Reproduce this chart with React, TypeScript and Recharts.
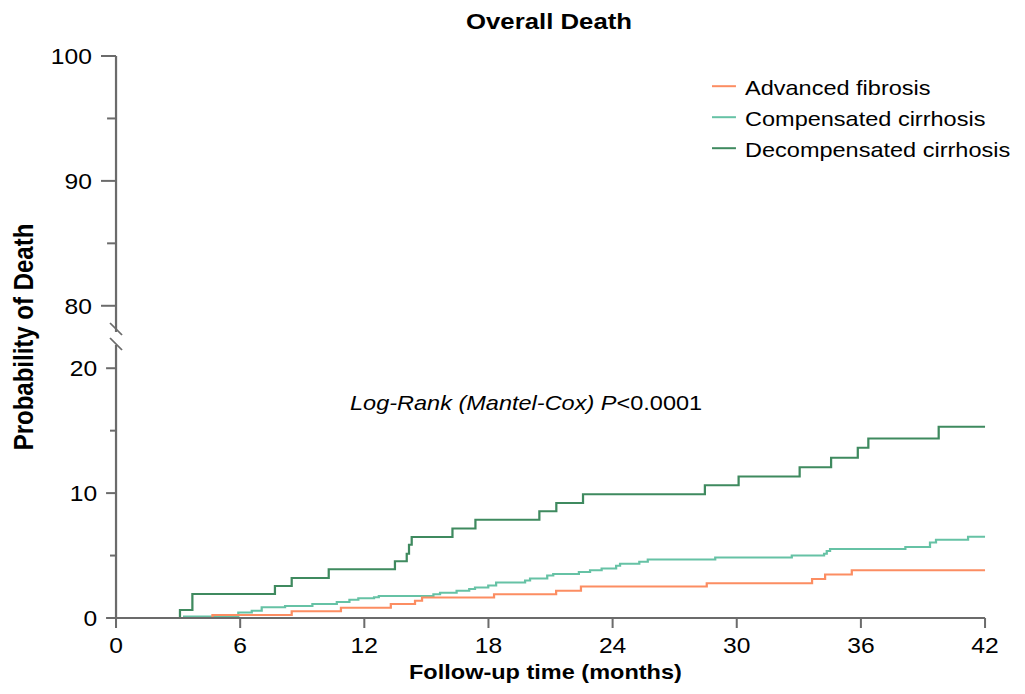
import React from 'react'
import { LineChart, Line, XAxis, YAxis, ReferenceLine } from 'recharts'

// the reference is a little wider than tall fonts suggest, so draw narrower and stretch
const STRETCH = 1.12
const W = 915
const H = 694

const AXIS = '#6b6b6b'
const FONT = '"Liberation Sans", Arial, Helvetica, sans-serif'

const COLORS = {
  advanced: '#fc8d62',
  compensated: '#66c2a5',
  decompensated: '#3f8a5f',
}

const monthTicks = [0, 6, 12, 18, 24, 30, 36, 42]
const lowerTicks = [0, 5, 10, 15, 20]
const upperTicks = [80, 85, 90, 95, 100]
// values 80..100 are drawn 55 units lower, right above the break
const BREAK_SHIFT = 55

// cumulative probability of death (%) against follow-up month, step curves
const advancedMonths = [0, 4.66, 8.49, 10.87, 13.28, 14.45, 14.79, 18.27, 21.27, 22.47, 28.55, 33.64, 34.27, 35.56, 42]
const advancedPct = [0, 0.24, 0.54, 0.83, 1.12, 1.39, 1.64, 1.9, 2.19, 2.52, 2.78, 3.13, 3.48, 3.83, 3.83]

const compensatedMonths = [
  0, 3.29, 5.91, 6.56, 7.04, 8.17, 9.49, 10.67, 11.28, 11.71, 12.47, 12.7, 15.34, 15.66, 16.46, 17.07, 17.35,
  17.99, 18.37, 19.77, 20.01, 20.84, 21.13, 22.37, 22.91, 23.47, 24.17, 24.36, 25.29, 25.7, 28.96, 32.66, 34.22,
  34.35, 34.51, 38.15, 39.34, 39.63, 41.18, 42,
]
const compensatedPct = [
  0, 0.13, 0.45, 0.59, 0.86, 0.96, 1.12, 1.28, 1.47, 1.58, 1.66, 1.77, 1.9, 2.03, 2.19, 2.33, 2.44,
  2.6, 2.84, 3.0, 3.16, 3.4, 3.53, 3.69, 3.83, 3.96, 4.18, 4.34, 4.5, 4.68, 4.84, 5.0, 5.14,
  5.36, 5.52, 5.68, 6.05, 6.27, 6.51, 6.51,
]

const decompensatedMonths = [
  0, 3.09, 3.69, 7.68, 8.49, 10.28, 13.48, 14.05, 14.16, 14.29, 16.26, 17.37, 20.46, 21.28, 22.57, 28.46, 30.09,
  33.04, 34.56, 35.85, 36.36, 39.76, 42,
]
const decompensatedPct = [
  0, 0.64, 1.93, 2.57, 3.21, 3.91, 4.55, 5.14, 5.86, 6.48, 7.17, 7.87, 8.54, 9.21, 9.91, 10.62, 11.33,
  12.08, 12.83, 13.63, 14.38, 15.32, 15.32,
]

const toSteps = (months: number[], pct: number[]) => months.map((t, i) => ({ t, p: pct[i] }))

const advancedData = toSteps(advancedMonths, advancedPct)
const compensatedData = toSteps(compensatedMonths, compensatedPct)
const decompensatedData = toSteps(decompensatedMonths, decompensatedPct)

const yTicks = [...lowerTicks, ...upperTicks.map((v) => v - BREAK_SHIFT)]

function YTick({ x, y, payload }: any) {
  const upper = payload.value > 20
  const shown = upper ? payload.value + BREAK_SHIFT : payload.value
  const major = shown % 10 === 0
  const len = upper ? (major ? 13.4 : 8) : major ? 8.9 : 5.4
  const gap = upper ? 21.6 : 16.8
  return (
    <g>
      <line x1={x - len} x2={x} y1={y} y2={y} stroke={AXIS} strokeWidth={2} />
      {major && (
        <text x={x - gap} y={y + 7.9} textAnchor="end" fontSize={22} fontFamily={FONT} fill="#000">
          {shown}
        </text>
      )}
    </g>
  )
}

function XTick({ x, y, payload }: any) {
  return (
    <g>
      <line x1={x} x2={x} y1={y} y2={y + 10} stroke={AXIS} strokeWidth={1.8} />
      <text x={x} y={y + 35} textAnchor="middle" fontSize={22} fontFamily={FONT} fill="#000">
        {payload.value}
      </text>
    </g>
  )
}

const legendItems = [
  { name: 'Advanced fibrosis', color: COLORS.advanced },
  { name: 'Compensated cirrhosis', color: COLORS.compensated },
  { name: 'Decompensated cirrhosis', color: COLORS.decompensated },
]

export default function App() {
  return (
    <div
      style={{
        position: 'absolute',
        left: 0,
        top: 0,
        width: W,
        height: H,
        transform: `scaleX(${STRETCH})`,
        transformOrigin: '0 0',
        background: '#fff',
      }}
    >
      <LineChart width={W} height={H} margin={{ top: 56, right: 35.5, bottom: 0, left: 0 }}>
        <XAxis
          type="number"
          dataKey="t"
          domain={[0, 42]}
          ticks={monthTicks}
          interval={0}
          height={76}
          axisLine={{ stroke: AXIS, strokeWidth: 2 }}
          tickLine={false}
          tickSize={0}
          tickMargin={0}
          tick={<XTick />}
        />
        <YAxis
          type="number"
          domain={[0, 45]}
          ticks={yTicks}
          interval={0}
          width={103.6}
          axisLine={false}
          tickLine={false}
          tickSize={0}
          tickMargin={0}
          tick={<YTick />}
        />
        {/* broken y axis line with the two slash marks */}
        <ReferenceLine segment={[{ x: 0, y: 0 }, { x: 0, y: 21.86 }]} stroke={AXIS} strokeWidth={2} ifOverflow="visible" />
        <ReferenceLine segment={[{ x: 0, y: 22.9 }, { x: 0, y: 45 }]} stroke={AXIS} strokeWidth={2} ifOverflow="visible" />
        <ReferenceLine segment={[{ x: -0.29, y: 23.62 }, { x: 0.29, y: 22.66 }]} stroke={AXIS} strokeWidth={1.6} ifOverflow="visible" />
        <ReferenceLine segment={[{ x: -0.29, y: 22.42 }, { x: 0.29, y: 21.46 }]} stroke={AXIS} strokeWidth={1.6} ifOverflow="visible" />
        <Line
          data={decompensatedData}
          dataKey="p"
          type="stepAfter"
          stroke={COLORS.decompensated}
          strokeWidth={2}
          dot={false}
          activeDot={false}
          isAnimationActive={false}
        />
        <Line
          data={compensatedData}
          dataKey="p"
          type="stepAfter"
          stroke={COLORS.compensated}
          strokeWidth={2}
          dot={false}
          activeDot={false}
          isAnimationActive={false}
        />
        <Line
          data={advancedData}
          dataKey="p"
          type="stepAfter"
          stroke={COLORS.advanced}
          strokeWidth={2}
          dot={false}
          activeDot={false}
          isAnimationActive={false}
        />
      </LineChart>
      <svg
        width={W}
        height={H}
        style={{ position: 'absolute', left: 0, top: 0, pointerEvents: 'none' }}
        fontFamily={FONT}
      >
        <text x={490.2} y={29} textAnchor="middle" fontSize={23} fontWeight="bold" fill="#000">
          Overall Death
        </text>
        <text x={312.5} y={410} fontSize={21} fill="#000">
          <tspan fontStyle="italic">Log-Rank (Mantel-Cox) P</tspan>
          <tspan>{'<0.0001'}</tspan>
        </text>
        <text x={487} y={679} textAnchor="middle" fontSize={21} fontWeight="bold" fill="#000">
          Follow-up time (months)
        </text>
        <text
          transform="translate(29.5, 337) rotate(-90)"
          textAnchor="middle"
          fontSize={24}
          fontWeight="bold"
          fill="#000"
        >
          Probability of Death
        </text>
        {legendItems.map((item, i) => {
          const base = 95 + i * 31
          return (
            <g key={item.name}>
              <line x1={635.7} x2={657.1} y1={base - 8.8} y2={base - 8.8} stroke={item.color} strokeWidth={2} />
              <text x={665.2} y={base} fontSize={21} fill="#000">
                {item.name}
              </text>
            </g>
          )
        })}
      </svg>
    </div>
  )
}
